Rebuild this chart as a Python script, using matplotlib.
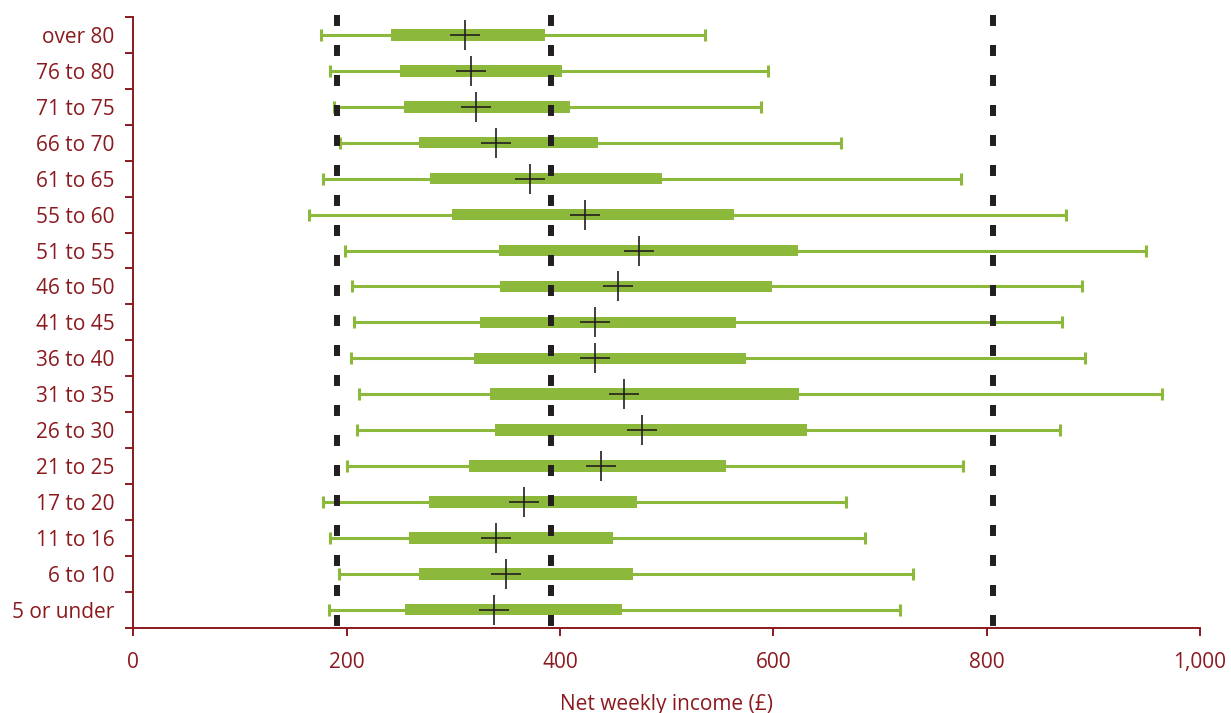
import matplotlib
matplotlib.use("Agg")
import matplotlib.pyplot as plt
from matplotlib.ticker import FuncFormatter, FixedLocator

plt.rcParams["font.family"] = ["Open Sans", "DejaVu Sans"]
plt.rcParams["lines.scale_dashes"] = False

# age groups, bottom to top
ages = ["5 or under", "6 to 10", "11 to 16", "17 to 20", "21 to 25", "26 to 30",
        "31 to 35", "36 to 40", "41 to 45", "46 to 50", "51 to 55", "55 to 60",
        "61 to 65", "66 to 70", "71 to 75", "76 to 80", "over 80"]

# net weekly income (£) distribution per age group
p10 = [183, 193, 184, 178, 200, 210, 212, 204, 207, 205, 198, 165,
       178, 194, 188, 184, 176]
q1 = [255, 268, 258, 277, 315, 339, 334, 319, 325, 344, 343, 299,
      278, 268, 254, 250, 242]
median = [338, 349, 340, 366, 438, 477, 460, 433, 433, 454, 474, 423,
          372, 340, 321, 317, 311]
q3 = [458, 468, 450, 472, 556, 632, 624, 574, 565, 599, 623, 563,
      496, 436, 409, 402, 386]
p90 = [719, 731, 686, 668, 778, 869, 964, 892, 871, 889, 949, 874,
       776, 663, 588, 595, 536]

# reference lines
ref_lines = [191, 392, 806]

red = "#8b1a1f"
green = "#8cb93b"
black = "#231f20"

fig = plt.figure(figsize=(12.31, 7.13), dpi=100)
ax = fig.add_axes([133.3 / 1231, 85.3 / 713, (1200 - 133.3) / 1231, (627.7 - 17) / 713])

y = list(range(len(ages)))

# whiskers with end caps, then the inter-quartile boxes
ax.hlines(y, p10, p90, color=green, lw=2.2, zorder=2)
ax.plot(p10, y, ls="none", marker="|", ms=8.6, mew=2.2, color=green, zorder=2)
ax.plot(p90, y, ls="none", marker="|", ms=8.6, mew=2.2, color=green, zorder=2)
widths = [b - a for a, b in zip(q1, q3)]
ax.barh(y, widths, left=q1, height=0.32, color=green, zorder=3)

top = len(ages) - 0.5 + 2 / 35.9
for v in ref_lines:
    ax.plot([v, v], [top, -0.5], color=black, lw=4.3, ls=(0, (7.9, 13.7)),
            clip_on=False, zorder=4)

ax.plot(median, y, ls="none", marker="+", ms=21, mew=1.2, color=black, zorder=5)

ax.set_xlim(0, 1000)
ax.set_ylim(-0.5, len(ages) - 0.5)

ax.set_xticks([0, 200, 400, 600, 800, 1000])
ax.xaxis.set_major_formatter(FuncFormatter(lambda v, p: f"{int(v):,}"))
ax.set_yticks(y)
ax.set_yticklabels(ages)
ax.yaxis.set_minor_locator(FixedLocator([i - 0.5 for i in range(len(ages) + 1)]))

ax.tick_params(axis="y", which="major", length=0, pad=13.5, labelsize=15, labelcolor=red)
ax.tick_params(axis="y", which="minor", length=5.8, width=1.4, color=red)
ax.tick_params(axis="x", length=5.8, width=1.4, color=red, pad=12, labelsize=15, labelcolor=red)

for s in ["top", "right"]:
    ax.spines[s].set_visible(False)
for s in ["left", "bottom"]:
    ax.spines[s].set_color(red)
    ax.spines[s].set_linewidth(1.4)

ax.set_xlabel("Net weekly income (£)", fontsize=15, color=red, labelpad=15)

fig.savefig("out.png", dpi=100)
